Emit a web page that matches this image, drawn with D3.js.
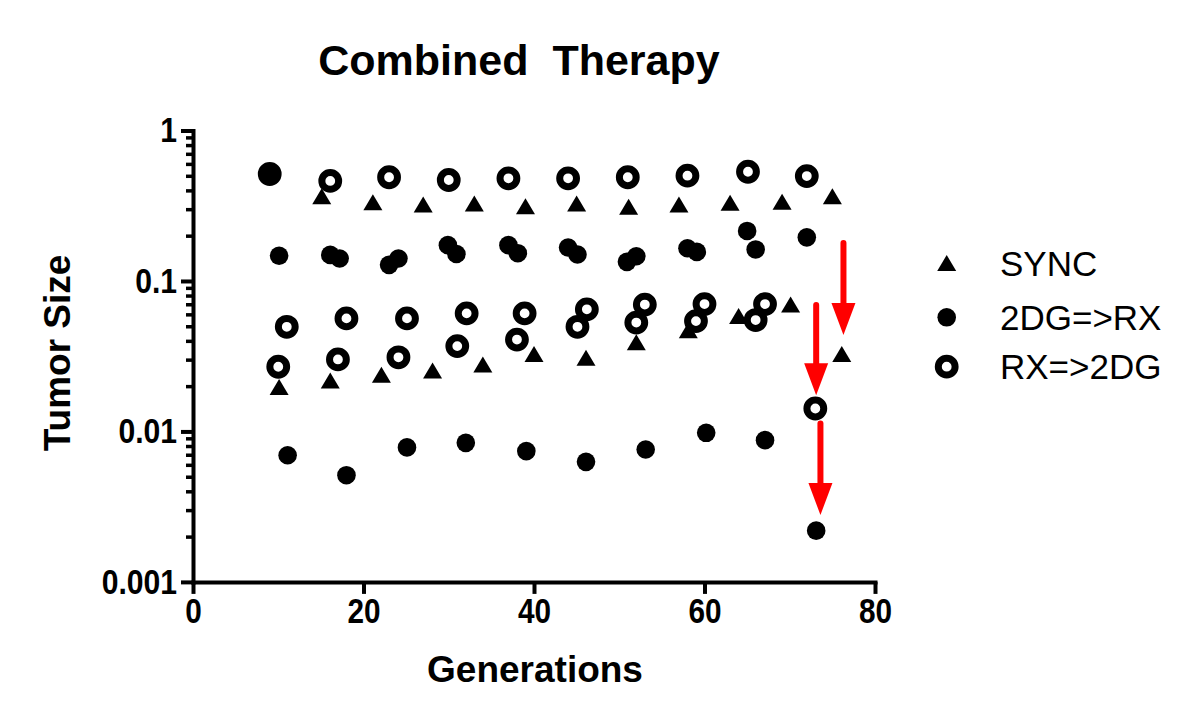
<!DOCTYPE html>
<html><head><meta charset="utf-8">
<script src="https://cdn.jsdelivr.net/npm/d3@7"></script>
<style>body{margin:0;background:#fff}svg{display:block}</style>
</head><body>
<svg id="c" width="1200" height="723"></svg>
<script>
// ---- data ----
const syncGen = [15.1,21.1,27.0,33.0,39.0,45.0,51.1,57.0,63.0,69.1,75.0,
                 10.1,16.1,22.1,28.1,34.0,40.0,46.1,52.0,58.1,64.0,70.1,76.1];
const syncVal = [0.363,0.331,0.320,0.325,0.311,0.325,0.309,0.320,0.328,0.333,0.363,
                 0.0196,0.0216,0.0236,0.0252,0.0276,0.0324,0.0306,0.0389,0.0466,0.058,0.0691,0.0324];
const dgRxGen = [9.0,
                 10.1,16.1,17.2,23.0,24.1,29.9,30.9,37.0,38.1,44.0,45.1,50.9,52.0,58.0,59.1,65.0,66.0,72.0,
                 11.1,18.0,25.1,32.0,39.1,46.1,53.1,60.2,67.1,73.1];
const dgRxVal = [0.514,
                 0.147,0.149,0.141,0.128,0.141,0.173,0.151,0.173,0.153,0.167,0.150,0.134,0.146,0.165,0.156,0.215,0.162,0.195,
                 0.00695,0.00512,0.00783,0.0084,0.0074,0.00628,0.00759,0.00979,0.00875,0.00219];
const rxDgGen = [9.0,16.1,23.0,30.0,37.0,44.0,51.0,58.0,65.1,72.0,
                 11.0,18.0,25.1,32.1,38.9,46.2,53.0,60.0,67.1,
                 10.0,17.0,24.1,31.0,38.0,45.1,52.0,59.0,66.0,73.0];
const rxDgVal = [0.514,0.462,0.489,0.469,0.481,0.481,0.489,0.501,0.532,0.498,
                 0.0496,0.0564,0.0564,0.0609,0.0609,0.0648,0.0697,0.0702,0.0702,
                 0.0269,0.0301,0.0311,0.0369,0.0408,0.0496,0.0529,0.0541,0.055,0.0142];
const arrowGen  = [76.3, 73.1, 73.6];
const arrowFrom = [0.179, 0.0691, 0.0113];
const arrowTo   = [0.0437, 0.0174, 0.00278];
const xTicks = [0, 20, 40, 60, 80];
const xTickLabels = ["0", "20", "40", "60", "80"];
const yTicks = [1, 0.1, 0.01, 0.001];
const yTickLabels = ["1", "0.1", "0.01", "0.001"];
const legendLabels = ["SYNC", "2DG=>RX", "RX=>2DG"];
const titleText = "Combined\u00a0\u00a0Therapy";
const xTitle = "Generations";
const yTitle = "Tumor Size";

// ---- chart ----
const svg = d3.select("#c");
svg.append("rect").attr("width",1200).attr("height",723).attr("fill","#fff");
const FONT = "'Liberation Sans', Arial, Helvetica, sans-serif";

const x = d3.scaleLinear().domain([0, 80]).range([193, 875]);
const y = d3.scaleLog().domain([0.001, 1]).range([581.9, 130.5]);

const minor = [];
[0.001, 0.01, 0.1].forEach(d => { for (let k = 2; k <= 9; k++) minor.push(d * k); });

function narrow(sel, f) {
  sel.each(function () {
    const w = this.getComputedTextLength();
    d3.select(this).attr("textLength", w * f).attr("lengthAdjust", "spacingAndGlyphs");
  });
}

// minor y ticks
const gMinor = svg.append("g").attr("transform", "translate(193,0)")
  .call(d3.axisLeft(y).tickValues(minor).tickSize(7).tickSizeOuter(0).tickFormat(""));
gMinor.select(".domain").remove();
gMinor.selectAll(".tick line").attr("stroke", "#000").attr("stroke-width", 3.5);

// major y axis
const gy = svg.append("g").attr("transform", "translate(193,0)")
  .call(d3.axisLeft(y).tickValues(yTicks).tickSize(12).tickSizeOuter(0).tickPadding(4)
        .tickFormat((d, i) => yTickLabels[i]));
gy.select(".domain").attr("stroke", "#000").attr("stroke-width", 4).attr("stroke-linecap","square");
gy.selectAll(".tick line").attr("stroke", "#000").attr("stroke-width", 4);
gy.selectAll(".tick text").attr("font-family", FONT).attr("font-weight", "bold")
  .attr("font-size", 35).attr("fill", "#000");
narrow(gy.selectAll(".tick text"), 0.86);

// x axis
const gx = svg.append("g").attr("transform", "translate(0,581.9)")
  .call(d3.axisBottom(x).tickValues(xTicks).tickSize(12).tickSizeOuter(0).tickPadding(4)
        .tickFormat((d, i) => xTickLabels[i]));
gx.select(".domain").attr("stroke", "#000").attr("stroke-width", 4).attr("stroke-linecap","square");
gx.selectAll(".tick line").attr("stroke", "#000").attr("stroke-width", 4);
gx.selectAll(".tick text").attr("font-family", FONT).attr("font-weight", "bold")
  .attr("font-size", 35).attr("fill", "#000");
narrow(gx.selectAll(".tick text"), 0.85);

// titles
svg.append("text").attr("x", 519).attr("y", 75).attr("text-anchor", "middle")
  .attr("font-family", FONT).attr("font-weight", "bold").attr("font-size", 43).text(titleText);
svg.append("text").attr("x", 535).attr("y", 682).attr("text-anchor", "middle")
  .attr("font-family", FONT).attr("font-weight", "bold").attr("font-size", 37).text(xTitle);
svg.append("text").attr("transform", "translate(70,353) rotate(-90)").attr("text-anchor", "middle")
  .attr("font-family", FONT).attr("font-weight", "bold").attr("font-size", 37).text(yTitle);

// markers
const triPath = "M0,-8.5L9.5,7.5L-9.5,7.5Z";
function drawTri(g, cx, cy) { g.append("path").attr("d", triPath).attr("transform", `translate(${cx},${cy})`).attr("fill", "#000"); }
function drawDot(g, cx, cy) { g.append("circle").attr("cx", cx).attr("cy", cy).attr("r", 9.3).attr("fill", "#000"); }
function drawRing(g, cx, cy) { g.append("circle").attr("cx", cx).attr("cy", cy).attr("r", 8.4).attr("fill", "none").attr("stroke", "#000").attr("stroke-width", 7); }

const gp = svg.append("g");
syncGen.forEach((g, i) => drawTri(gp, x(g), y(syncVal[i])));
dgRxGen.forEach((g, i) => drawDot(gp, x(g), y(dgRxVal[i])));
rxDgGen.forEach((g, i) => drawRing(gp, x(g), y(rxDgVal[i])));

// arrows
const RED = "#ff0000";
const ga = svg.append("g");
arrowGen.forEach((g, i) => {
  const ax = x(g), y0 = y(arrowFrom[i]), y1 = y(arrowTo[i]);
  ga.append("line").attr("x1", ax).attr("x2", ax).attr("y1", y0).attr("y2", y1 - 28)
    .attr("stroke", RED).attr("stroke-width", 6).attr("stroke-linecap", "round");
  ga.append("path").attr("d", `M${ax},${y1}L${ax - 12},${y1 - 32}L${ax + 12},${y1 - 32}Z`).attr("fill", RED);
});

// legend
const gl = svg.append("g");
const legY = [263.5, 317.3, 366.7];
drawTri(gl, 946.7, legY[0]);
drawDot(gl, 946.7, legY[1]);
drawRing(gl, 946.7, legY[2]);
legendLabels.forEach((t, i) => {
  gl.append("text").attr("x", 1000).attr("y", legY[i] + 12.5)
    .attr("font-family", FONT).attr("font-size", 35).attr("fill", "#000").text(t);
});
</script>
</body></html>
